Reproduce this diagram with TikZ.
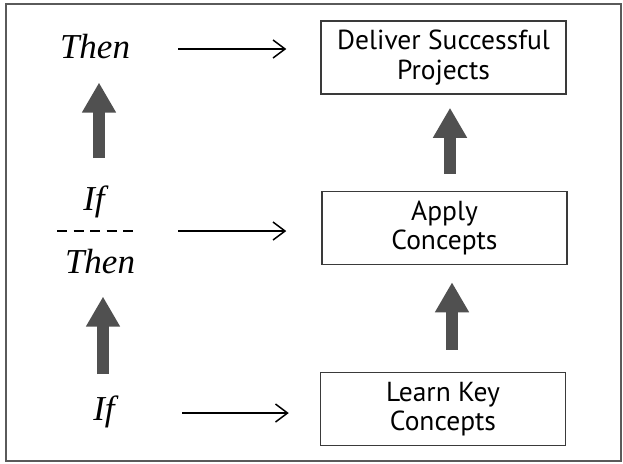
\documentclass[tikz,border=0pt]{standalone}
\usepackage{fontspec}
\setmainfont{Liberation Serif}
\newfontfamily\boxfont{PT Sans}
\usetikzlibrary{arrows.meta}
\definecolor{framegray}{HTML}{5A5A5A}
\definecolor{boxline}{HTML}{3A3A3A}
\definecolor{blockgray}{HTML}{505050}
\tikzset{
  stepbox/.style={draw=boxline, line width=1.5pt, minimum width=245pt, minimum height=73pt,
    inner sep=0pt, align=center, font=\boxfont\fontsize{27.5}{29.5}\selectfont},
  logic/.style={inner sep=0pt, anchor=base, font=\itshape\fontsize{35}{36}\selectfont},
  thinarrow/.style={line width=1.5pt, -{Straight Barb[length=12pt,width=18pt,line width=1.5pt]}},
  blockarrow/.style={draw=blockgray, line width=12pt,
    -{Triangle[length=30pt,width=32pt,fill=blockgray]}}
}
\begin{document}
\begin{tikzpicture}[x=1pt,y=-1pt]
  \useasboundingbox (0,0) rectangle (623,463);
  % outer frame
  \draw[framegray, line width=2pt] (6,4) rectangle (621,461);

  % the three steps
  \node[stepbox] (deliver) at (443.5,57.5) {Deliver Successful\\Projects};
  \node[stepbox] (apply)   at (444.5,228)  {Apply\\Concepts};
  \node[stepbox] (learn)   at (443,409)    {Learn Key\\Concepts};

  % if / then chain on the left
  \node[logic] (then1) at (95,58)  {Then};
  \node[logic] (if1)   at (94,210) {If};
  \node[logic] (then2) at (100,273) {Then};
  \node[logic] (if2)   at (104,420) {If};

  % separator between the middle If and Then
  \coordinate (sepL) at (57,231);
  \coordinate (sepR) at (133,231);
  \draw[black, line width=1.8pt, dash pattern=on 10pt off 6.5pt] (sepL) -- (sepR);

  % horizontal links from the chain to the steps
  \coordinate (h1) at (178,49);
  \coordinate (h2) at (178,231);
  \coordinate (h3) at (182,413);
  \draw[thinarrow, shorten >=34pt] (h1) -- (h1 -| deliver.west);
  \draw[thinarrow, shorten >=35pt] (h2) -- (h2 -| apply.west);
  \draw[thinarrow, shorten >=31pt] (h3) -- (h3 -| learn.west);

  % block arrows between the steps
  \coordinate (r1s) at ([xshift=5.5pt]apply.north);
  \coordinate (r2s) at ([xshift=9pt]learn.north);
  \draw[blockarrow, shorten <=17pt, shorten >=13pt] (r1s) -- (r1s |- deliver.south);
  \draw[blockarrow, shorten <=22pt, shorten >=17pt] (r2s) -- (r2s |- apply.south);

  % block arrows along the chain
  \coordinate (l1s) at (99,188);
  \coordinate (l2s) at (103,397);
  \draw[blockarrow, shorten <=30pt, shorten >=24pt] (l1s) -- (l1s |- then1.south);
  \draw[blockarrow, shorten <=23pt, shorten >=23pt] (l2s) -- (l2s |- then2.south);
\end{tikzpicture}
\end{document}
